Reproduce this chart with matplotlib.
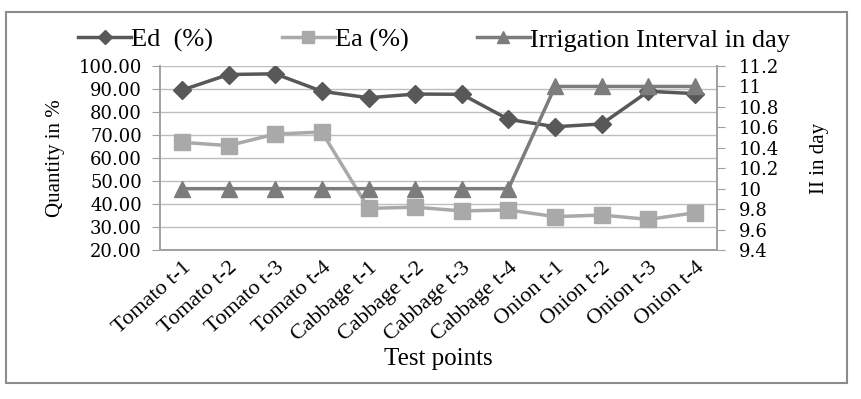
import matplotlib
matplotlib.use("Agg")
import matplotlib.pyplot as plt
from matplotlib.patches import Rectangle

categories = ["Tomato t-1", "Tomato t-2", "Tomato t-3", "Tomato t-4",
              "Cabbage t-1", "Cabbage t-2", "Cabbage t-3", "Cabbage t-4",
              "Onion t-1", "Onion t-2", "Onion t-3", "Onion t-4"]
ed = [89.5, 96.3, 96.6, 89.0, 86.2, 87.8, 87.7, 76.8, 73.6, 74.8, 89.0, 88.0]
ea = [66.8, 65.4, 70.4, 71.3, 38.1, 38.6, 37.0, 37.4, 34.5, 35.2, 33.3, 36.2]
ii = [10, 10, 10, 10, 10, 10, 10, 10, 11, 11, 11, 11]

left_ticks = [20, 30, 40, 50, 60, 70, 80, 90, 100]
right_ticks = [9.4, 9.6, 9.8, 10, 10.2, 10.4, 10.6, 10.8, 11, 11.2]

plt.rcParams['font.family'] = ['Liberation Serif', 'DejaVu Serif']
num_font = ['DejaVu Serif']

fig = plt.figure(figsize=(8.61, 3.99), dpi=100)
fig.patches.append(Rectangle((6/861, 1-383/399), 841/861, 371/399, transform=fig.transFigure,
                             fill=False, edgecolor='#8c8c8c', linewidth=1.5))

ax = fig.add_axes([160/861, 1-250/399, 557/861, 184/399])
ax2 = ax.twinx()

x = list(range(len(categories)))
c_ed = '#585858'
c_ea = '#a9a9a9'
c_ii = '#7c7c7c'

l1, = ax.plot(x, ed, color=c_ed, marker='D', markersize=9, linewidth=2.5, label='Ed  (%)', zorder=4)
l2, = ax.plot(x, ea, color=c_ea, marker='s', markersize=11, linewidth=2.5, label='Ea (%)', zorder=3)
l3, = ax2.plot(x, ii, color=c_ii, marker='^', markersize=11, linewidth=2.5,
               label='Irrigation Interval in day', zorder=3)

ax.set_xlim(-0.47, len(categories) - 0.53)
ax.set_ylim(20, 100)
ax.set_yticks(left_ticks)
ax.set_yticklabels([f"{v:.2f}" for v in left_ticks], fontsize=13, family=num_font)
ax2.set_ylim(9.4, 11.2)
ax2.set_yticks(right_ticks)
ax2.set_yticklabels([f"{v:g}" for v in right_ticks], fontsize=13, family=num_font)

ax.grid(axis='y', color='#bdbdbd', linewidth=1)
ax.set_axisbelow(True)
ax.set_xticks(x)
ax.set_xticklabels(categories, rotation=42, ha='right', rotation_mode='anchor', fontsize=16)
ax.tick_params(axis='x', length=0, pad=6)
ax.tick_params(axis='y', length=6, color='#a0a0a0', pad=7)
ax2.tick_params(axis='y', length=6, color='#a0a0a0', pad=10)

for a in (ax, ax2):
    a.spines['top'].set_visible(False)
    for s in ['left', 'right', 'bottom']:
        a.spines[s].set_color('#a0a0a0')
        a.spines[s].set_linewidth(1.2)

ax.set_ylabel("Quantity in %", fontsize=15, labelpad=10)
ax2.set_ylabel("II in day", fontsize=15, labelpad=22)
ax.set_xlabel("Test points", fontsize=18, labelpad=2)

fig.legend(handles=[l1, l2, l3], loc='center', bbox_to_anchor=(434/861, 1-40/399), ncol=3,
           frameon=False, fontsize=19, handlelength=2.0, handletextpad=0.0, columnspacing=2.6,
           markerscale=0.75)

fig.savefig("out.png", dpi=100)
